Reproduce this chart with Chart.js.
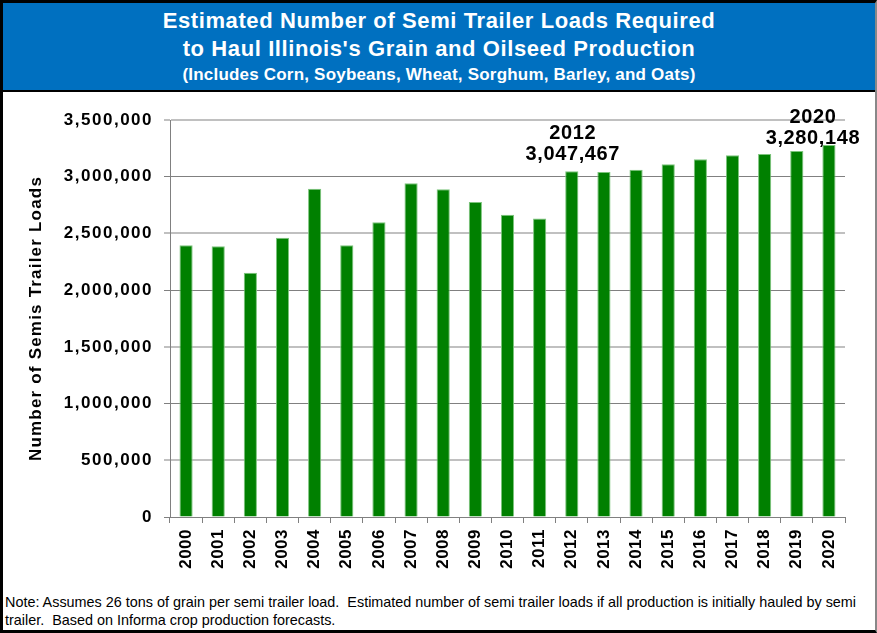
<!DOCTYPE html>
<html>
<head>
<meta charset="utf-8">
<script src="https://cdn.jsdelivr.net/npm/chart.js@4/dist/chart.umd.min.js"></script>
<style>
  html, body { margin: 0; padding: 0; background: #fff; }
  #frame { position: absolute; left: 0; top: 0; width: 877px; height: 633px; box-sizing: border-box;
           border-left: 3px solid #000; border-top: 3px solid #000; border-bottom: 3px solid #000; border-right: 2px solid #888; background: #fff; overflow: hidden; }
  #header { position: absolute; left: 0; top: 0; width: 872px; height: 87px; background: #0070C0; border-bottom: 2px solid #000;
            font-family: "Liberation Sans", Arial, sans-serif; color: #fff; font-weight: bold; text-align: center; }
  #h1 { position: absolute; left: 0; width: 100%; top: 5px; font-size: 22px; letter-spacing: 0.6px; line-height: 26px; }
  #h2 { position: absolute; left: 0; width: 100%; top: 33px; font-size: 22px; letter-spacing: 0.6px; line-height: 26px; }
  #h3 { position: absolute; left: 0; width: 100%; top: 62px; font-size: 17px; letter-spacing: 0.2px; line-height: 20px; }
  #chartBox { position: absolute; left: 0; top: 89px; width: 871px; height: 498px; }
  #note { position: absolute; left: 2px; top: 590px; font-family: "Liberation Sans", Arial, sans-serif; font-size: 14.4px; line-height: 18px; color: #000; white-space: pre; }
</style>
</head>
<body>
<div id="frame">
  <div id="header">
    <div id="h1">Estimated Number of Semi Trailer Loads Required</div>
    <div id="h2">to Haul Illinois's Grain and Oilseed Production</div>
    <div id="h3">(Includes Corn, Soybeans, Wheat, Sorghum, Barley, and Oats)</div>
  </div>
  <div id="chartBox"><canvas id="c" width="871" height="498"></canvas></div>
  <div id="note">Note: Assumes 26 tons of grain per semi trailer load.  Estimated number of semi trailer loads if all production is initially hauled by semi
trailer.  Based on Informa crop production forecasts.</div>
</div>
<script>
// ---- data ----
const years = ['2000','2001','2002','2003','2004','2005','2006','2007','2008','2009','2010',
               '2011','2012','2013','2014','2015','2016','2017','2018','2019','2020'];
const semiLoads = [2396000, 2388000, 2154000, 2462000, 2894000, 2396000, 2598000, 2942000, 2889000, 2777000, 2665000,
                   2632000, 3047467, 3041000, 3062000, 3109000, 3153000, 3189000, 3200000, 3227000, 3280148];
const yTickMin = 0;
const yTickMax = 3500000;
const yTickStep = 500000;
const highlightedYears = ['2012', '2020'];

const fmt = v => Math.round(v).toLocaleString('en-US');

function wrapSpacing(scale, fnName, ls) {
  const orig = scale[fnName];
  if (!orig || orig.__wrapped) return;
  const w = function(...args) {
    const ctx = this.ctx;
    const prev = ctx.letterSpacing;
    ctx.letterSpacing = ls;
    try { return orig.apply(this, args); } finally { ctx.letterSpacing = prev; }
  };
  w.__wrapped = true;
  scale[fnName] = w;
}

const spacingPlugin = {
  id: 'spacing',
  beforeDraw(chart) {
    wrapSpacing(chart.scales.y, 'drawLabels', '1.5px');
    wrapSpacing(chart.scales.y, 'drawTitle', '1.2px');
    wrapSpacing(chart.scales.x, 'drawLabels', '0.5px');
  }
};

// offsets of the callout labels relative to bar top (style only)
const calloutStyle = {
  '2012': { dx: 1, yearDy: -38, valueDy: -17 },
  '2020': { dx: -16, yearDy: -27, valueDy: -6 }
};

const calloutPlugin = {
  id: 'callouts',
  afterDatasetsDraw(chart) {
    const ctx = chart.ctx;
    const meta = chart.getDatasetMeta(0);
    ctx.save();
    ctx.font = 'bold 20px "Liberation Sans", Arial, sans-serif';
    ctx.letterSpacing = '0.6px';
    ctx.fillStyle = '#000';
    ctx.textAlign = 'center';
    ctx.textBaseline = 'middle';
    highlightedYears.forEach(yr => {
      const i = years.indexOf(yr);
      const bar = meta.data[i];
      const st = calloutStyle[yr];
      const x = bar.x + st.dx;
      ctx.fillText(yr, x, bar.y + st.yearDy);
      ctx.fillText(fmt(semiLoads[i]), x, bar.y + st.valueDy);
    });
    ctx.restore();
  }
};

new Chart(document.getElementById('c'), {
  type: 'bar',
  data: {
    labels: years,
    datasets: [{
      data: semiLoads,
      backgroundColor: '#008000',
      borderColor: '#7cc47c',
      borderWidth: 1,
      categoryPercentage: 1,
      barPercentage: 0.41
    }]
  },
  options: {
    responsive: false,
    animation: false,
    devicePixelRatio: 1,
    layout: { padding: { left: 0, right: 29, top: 28, bottom: 0 } },
    plugins: { legend: { display: false }, tooltip: { enabled: false } },
    scales: {
      x: {
        afterFit(s) { s.height = 73; },
        grid: { drawOnChartArea: false, drawTicks: true, tickLength: 6, color: '#808080', offset: true },
        border: { color: '#808080', width: 1 },
        ticks: {
          autoSkip: false, maxRotation: 90, minRotation: 90, padding: 6,
          color: '#000', font: { family: '"Liberation Sans", Arial, sans-serif', size: 17, weight: 'bold' }
        }
      },
      y: {
        min: yTickMin, max: yTickMax,
        afterFit(s) { s.width = 167; },
        grid: {
          color: c => (c.tick && (c.tick.value / yTickStep) % 2 === 1) ? '#c0c0c0' : '#808080',
          lineWidth: c => (c.tick && (c.tick.value / yTickStep) % 2 === 1) ? 2 : 1,
          tickLength: 6
        },
        border: { color: '#808080', width: 1 },
        ticks: {
          stepSize: yTickStep, padding: 11, color: '#000',
          font: { family: '"Liberation Sans", Arial, sans-serif', size: 17, weight: 'bold' },
          callback: v => fmt(v)
        },
        title: {
          display: true, text: 'Number of Semis Trailer Loads', color: '#000',
          font: { family: '"Liberation Sans", Arial, sans-serif', size: 17, weight: 'bold' },
          padding: { top: 23, bottom: 0 }
        }
      }
    }
  },
  plugins: [spacingPlugin, calloutPlugin]
});
</script>
</body>
</html>
